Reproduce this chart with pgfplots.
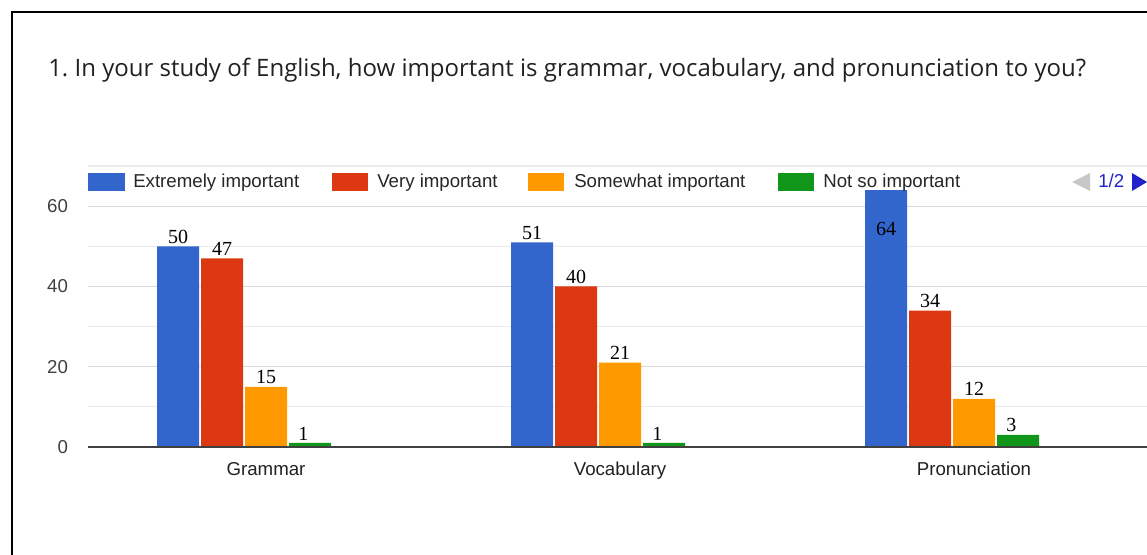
\documentclass[border=0pt]{standalone}
\usepackage{pgfplots}
\pgfplotsset{compat=1.18}
\usepackage{fontspec}
\setmainfont{Liberation Sans}
\newfontfamily\titlefont{Open Sans}
\newfontfamily\labelfont{Liberation Serif}
\definecolor{cblue}{HTML}{3366CC}
\definecolor{cred}{HTML}{DC3912}
\definecolor{corange}{HTML}{FF9900}
\definecolor{cgreen}{HTML}{109618}
\definecolor{navblue}{HTML}{2222CC}
\frenchspacing
\begin{document}
\begin{tikzpicture}[x=0.75pt,y=0.75pt]
\useasboundingbox (0,0) rectangle (1147,554);
\draw[line width=1.5pt] (12,-5) -- (12,542) -- (1152,542);
\node[anchor=base west, inner sep=0pt, font=\titlefont\fontsize{18}{22}\selectfont, text=black!87] at (48,477)
  {1.\ In your study of English, how important is grammar, vocabulary, and pronunciation to you?};
\begin{axis}[
  at={(66pt,80.25pt)}, anchor=south west, scale only axis,
  width=794.25pt, height=210.75pt,
  xmin=-0.4407, xmax=2.5508, ymin=0, ymax=70,
  ybar=1.5pt, bar width=31.5pt,
  axis line style={draw=none},
  major tick length=0pt, minor tick length=0pt,
  xtick={0,1,2}, xticklabels={Grammar,Vocabulary,Pronunciation},
  ytick={0,20,40,60}, minor ytick={10,30,50,70},
  ymajorgrids, yminorgrids,
  major grid style={draw=black!15, line width=0.9pt},
  minor grid style={draw=black!8, line width=0.9pt},
  /pgf/number format/assume math mode=true,
  tick label style={font=\fontsize{14}{16}\selectfont, text=black!75},
  yticklabel style={xshift=-11.5pt},
  xticklabel style={yshift=-8pt, xshift=16.5pt, text=black!87},
  clip=false,
  nodes near coords,
  every node near coord/.append style={font=\labelfont\fontsize{15}{17}\selectfont, text=black, inner sep=2pt},
]
\addplot[fill=cblue, draw=none,
  coordinate style/.condition={\coordindex==2}{anchor=north, yshift=-22pt}]
  coordinates {(0,50) (1,51) (2,64)};
\addplot[fill=cred, draw=none] coordinates {(0,47) (1,40) (2,34)};
\addplot[fill=corange, draw=none] coordinates {(0,15) (1,21) (2,12)};
\addplot[fill=cgreen, draw=none, every node near coord/.append style={xshift=-5pt}] coordinates {(0,1) (1,1) (2,3)};
\draw[black!75, line width=1.5pt] (rel axis cs:0,0) -- (rel axis cs:1,0);
\end{axis}
% legend
\fill[cblue] (88,363) rectangle (125,381);
\node[anchor=base west, inner sep=0pt, font=\fontsize{14}{16}\selectfont, text=black!85] at (133,366) {Extremely important};
\fill[cred] (332,363) rectangle (368,381);
\node[anchor=base west, inner sep=0pt, font=\fontsize{14}{16}\selectfont, text=black!85] at (377,366) {Very important};
\fill[corange] (528,363) rectangle (564,381);
\node[anchor=base west, inner sep=0pt, font=\fontsize{14}{16}\selectfont, text=black!85] at (574,366) {Somewhat important};
\fill[cgreen] (778,363) rectangle (814,381);
\node[anchor=base west, inner sep=0pt, font=\fontsize{14}{16}\selectfont, text=black!85] at (823,366) {Not so important};
\fill[black!22] (1072,372) -- (1090,381) -- (1090,363) -- cycle;
\node[anchor=base west, inner sep=0pt, font=\fontsize{14}{16}\selectfont, text=navblue] at (1098,366) {1/2};
\fill[navblue] (1147,372) -- (1132,381) -- (1132,363) -- cycle;
\end{tikzpicture}
\end{document}
